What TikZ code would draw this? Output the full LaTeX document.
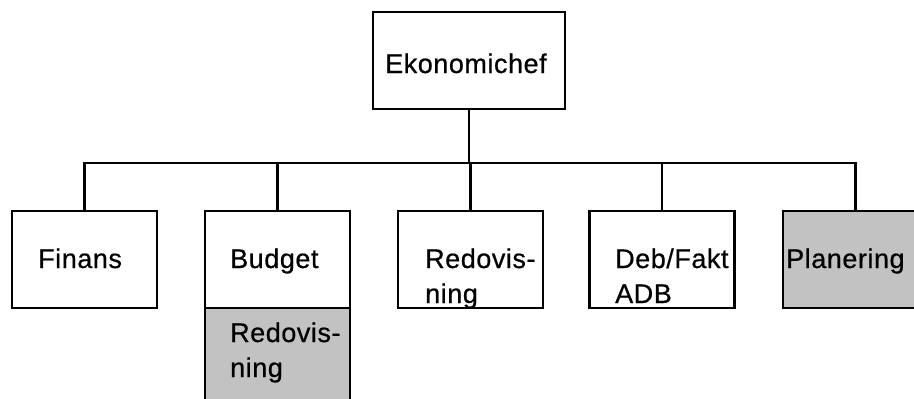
\documentclass[tikz,border=0pt]{standalone}
\usepackage{fontspec}
\setmainfont{Liberation Sans}[LetterSpace=2,FakeBold=0.6]
\begin{document}
\begin{tikzpicture}[x=1pt,y=-1pt,
  box/.style={draw=black,line width=2.8pt,rectangle,inner sep=0pt,
    minimum width=145pt,minimum height=97pt},
  shaded/.style={box,fill=black!24},
  lbl/.style={anchor=base west,inner sep=0pt,font=\fontsize{27}{31}\selectfont},
  wire/.style={line width=2.8pt}]
\useasboundingbox (0,0) rectangle (914,399);
\fill[white] (0,0) rectangle (914,399);

% head box
\node[box,minimum width=192pt] (eko) at (469,60.5) {};
\node[lbl] (ekoT) at (385,73) {Ekonomichef};

% department boxes
\node[box] (fin) at (84.5,259.5) {};
\node[shaded,minimum height=102pt] (budlow) at (277.5,359) {};
\node[box,fill=white] (bud) at (277.5,259.5) {};
\node[box] (red) at (470.5,259.5) {};
\node[box] (deb) at (662,259.5) {};
\node[shaded] (plan) at (855.5,259.5) {};

% labels
\node[lbl] (finT) at (38,268) {Finans};
\node[lbl] (budT) at (230,268) {Budget};
\node[lbl] (budlowA) at (230,342) {Redovis-};
\node[lbl] (budlowB) at (230,377) {ning};
\node[lbl] (redA) at (425,268) {Redovis-};
\node[lbl] (redB) at (425,303) {ning};
\node[lbl] (debA) at (615,268) {Deb/Fakt};
\node[lbl] (debB) at (615,303) {ADB};
\node[lbl] (planT) at (786,268) {Planering};

% connecting tree
\coordinate (bar) at (0,163);
\draw[wire] (eko.south) -- (eko.south |- bar);
\draw[wire] (fin.north) -- (fin.north |- bar) -- (plan.north |- bar) -- (plan.north);
\foreach \n in {bud,red,deb} \draw[wire] (\n.north) -- (\n.north |- bar);
\end{tikzpicture}
\end{document}
